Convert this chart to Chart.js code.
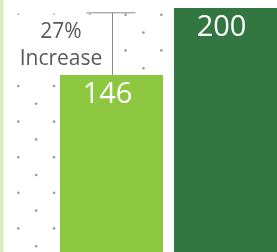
<!DOCTYPE html>
<html>
<head>
<meta charset="utf-8">
<script src="https://cdn.jsdelivr.net/npm/chart.js@4/dist/chart.umd.min.js"></script>
<style>
  html, body { margin: 0; padding: 0; background: #fff; }
  #wrap { width: 277px; height: 252px; overflow: hidden; position: relative; }
  #myChart { display: block; }
</style>
</head>
<body>
<div id="wrap"><canvas id="myChart" width="290" height="256"></canvas></div>
<script>
// data
const categories = ["Before", "After"];
const values = [146, 200];
const barColors = ["#8dc63f", "#327641"];
const changeLabel = ["27%", "Increase"];

const ctx = document.getElementById("myChart").getContext("2d");

// dotted background + white box behind the annotation
const backdrop = {
    id: "backdrop",
    beforeDatasetsDraw(chart) {
        const c = chart.ctx;
        c.save();
        c.fillStyle = "#ffffff";
        c.fillRect(0, 0, chart.width, chart.height);
        c.fillStyle = "#dcebc6";
        c.fillRect(0, 0, 3.5, chart.height);
        c.fillStyle = "#9a9a9a";
        for (let i = 0; i < 18; i++) {
            for (let j = 0; j < 16; j++) {
                if ((i + j) % 2) continue;
                c.beginPath();
                c.arc(18.3 + i * 17.88, 14.8 + j * 17.8, 1.3, 0, Math.PI * 2);
                c.fill();
            }
        }
        c.fillStyle = "#ffffff";
        c.fillRect(4, 14.6, 105.5, 60);
        c.restore();
    }
};

// value labels + bracket annotation
const labelsPlugin = {
    id: "labelsPlugin",
    afterDatasetsDraw(chart) {
        const c = chart.ctx;
        const bars = chart.getDatasetMeta(0).data;
        c.save();
        c.fillStyle = "#ffffff";
        c.font = "29px 'Open Sans'";
        c.textAlign = "center";
        c.textBaseline = "alphabetic";
        bars.forEach((b, i) => {
            c.fillText(String(values[i]), b.x - 4, b.y + 28);
        });

        const b1 = bars[0], b2 = bars[1];
        const yTop = b2.y + 4.3;
        c.strokeStyle = "#8a8a8a";
        c.lineWidth = 1;
        c.beginPath();
        c.moveTo(b1.x - 25, yTop + 0.5);
        c.lineTo(b1.x + 24, yTop + 0.5);
        c.moveTo(Math.round(b1.x) + 0.5, yTop);
        c.lineTo(Math.round(b1.x) + 0.5, b1.y);
        c.stroke();

        c.fillStyle = "#595959";
        c.font = "21px 'Open Sans'";
        c.fillText(changeLabel[0], 61, 37.5);
        c.fillText(changeLabel[1], 61, 65);
        c.restore();
    }
};

let myBarChart = new Chart(ctx, {
    type: "bar",
    data: {
        labels: categories,
        datasets: [{
            data: values,
            backgroundColor: barColors,
            borderWidth: 0,
            barPercentage: 0.9035,
            categoryPercentage: 1
        }]
    },
    options: {
        responsive: false,
        animation: false,
        layout: { padding: { left: 54.5, right: 7.5, top: 8, bottom: 0 } },
        plugins: { legend: { display: false }, tooltip: { enabled: false } },
        scales: {
            x: { display: false },
            y: { display: false, min: 0, max: 200 }
        }
    },
    plugins: [backdrop, labelsPlugin]
});
</script>
</body>
</html>
